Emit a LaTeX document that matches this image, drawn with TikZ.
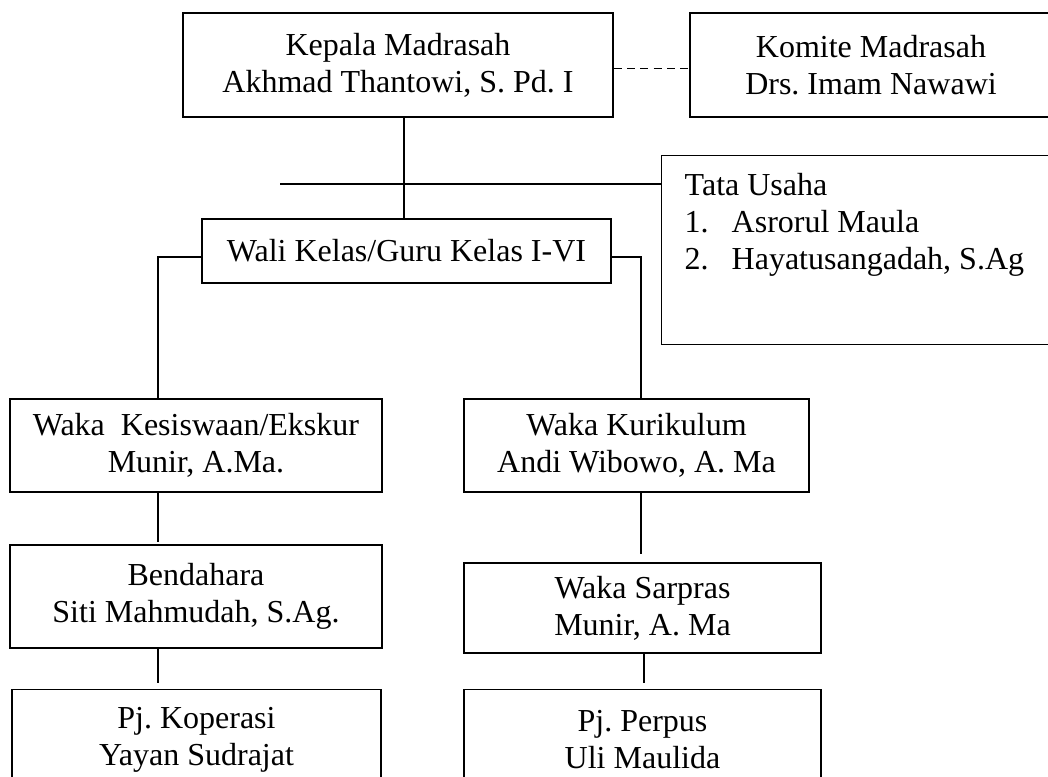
\documentclass[tikz,border=0pt]{standalone}
\usepackage{fontspec}
\setmainfont{Liberation Serif}
\frenchspacing
\tikzset{every picture/.style={line width=1.1pt}}
\tikzset{
  box/.style={draw, align=center, inner sep=0pt, font=\fontsize{24}{27.75}\selectfont},
  lbl/.style={inner sep=0pt, align=left, anchor=north west, font=\fontsize{24}{27.75}\selectfont},
  link/.style={line width=1pt}
}
\begin{document}
\begin{tikzpicture}[x=0.75pt,y=0.75pt,yscale=-1,xscale=1]
			\clip (0,0) rectangle (1048,777);
			\fill[white] (0,0) rectangle (1048,777);

			%Shape: Rectangle [kepala]
			\node[box, minimum width=322.5pt, minimum height=78pt] (kepala) at (398,65) {Kepala Madrasah\\Akhmad Thantowi, S. Pd. I};
			%Shape: Rectangle [komite]
			\node[box, minimum width=271.5pt, minimum height=78pt] (komite) at (871,65) {Komite Madrasah\\Drs. Imam Nawawi};
			%Shape: Rectangle [tata usaha]
			\node[box, minimum width=321.75pt, minimum height=141.75pt, anchor=north west] (tata) at (661,155) {};
			\node[lbl] (tatatext) at (684,173) {Tata Usaha\\\makebox[35.25pt][l]{1.}Asrorul Maula\\\makebox[35.25pt][l]{2.}Hayatusangadah, S.Ag};
			%Shape: Rectangle [wali kelas]
			\node[box, minimum width=306.75pt, minimum height=48pt] (wali) at (406.5,251) {Wali Kelas/Guru Kelas I-VI};
			%Shape: Rectangle [kesiswaan]
			\node[box, minimum width=279pt, minimum height=69.75pt] (kesiswaan) at (196,445.5) {Waka\ \ Kesiswaan/Ekskur\\Munir, A.Ma.};
			%Shape: Rectangle [kurikulum]
			\node[box, minimum width=258.75pt, minimum height=69.75pt] (kurikulum) at (636.5,445.5) {Waka Kurikulum\\Andi Wibowo, A. Ma};
			%Shape: Rectangle [bendahara]
			\node[box, minimum width=279pt, minimum height=77.25pt] (bendahara) at (196,596.5) {Bendahara\\Siti Mahmudah, S.Ag.};
			%Shape: Rectangle [sarpras]
			\node[box, minimum width=267.75pt, minimum height=67.5pt] (sarpras) at (642.5,608) {Waka Sarpras\\Munir, A. Ma};
			%Shape: Rectangle [koperasi]
			\node[box, minimum width=276.75pt, minimum height=75pt, anchor=north] (koperasi) at (196.5,689) {Pj. Koperasi\\Yayan Sudrajat};
			%Shape: Rectangle [perpus]
			\node[box, minimum width=267.75pt, minimum height=75pt, anchor=north] (perpus) at (642.5,689) {Pj. Perpus\\Uli Maulida};

			%Straight Lines
			\draw[link] ([xshift=-2pt]wali.north) -- ([xshift=-2pt]wali.north |- kepala.south);
			\draw[link, dash pattern=on 6pt off 4pt] ([yshift=2.5pt]kepala.east) -- ([yshift=2.5pt]kepala.east -| komite.west);
			\coordinate (tuend) at (280,184);
			\draw[link] (tuend) -- (tuend -| tata.west);
			\draw[link] ([yshift=4.5pt]wali.west) -| ([xshift=-28.5pt]kesiswaan.north);
			\draw[link] ([yshift=4.5pt]wali.east) -| ([xshift=3.4pt]kurikulum.north);
			\draw[link, shorten >=1.5pt] ([xshift=-28.5pt]kesiswaan.south) -- ([xshift=-28.5pt]bendahara.north);
			\draw[link, shorten >=6pt] ([xshift=3.4pt]kurikulum.south) -- ([xshift=3.4pt]kurikulum.south |- sarpras.north);
			\draw[link, shorten >=4.5pt] ([xshift=-28.5pt]bendahara.south) -- ([xshift=-28.5pt]bendahara.south |- koperasi.north);
			\draw[link, shorten >=4.5pt] ([xshift=1.1pt]sarpras.south) -- ([xshift=1.1pt]sarpras.south |- perpus.north);
		\end{tikzpicture}
\end{document}
